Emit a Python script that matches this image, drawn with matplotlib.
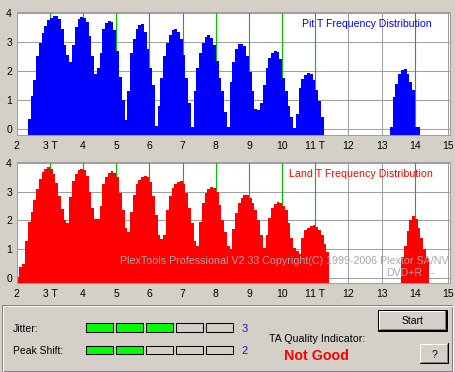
import matplotlib
matplotlib.use('Agg')
import matplotlib.pyplot as plt
import numpy as np
from matplotlib.patches import Rectangle

plt.rcParams['font.family'] = ['Liberation Sans', 'DejaVu Sans']

# ---------------- data ----------------
BIN = 1 / 12
x_ticks = [2, 3, 4, 5, 6, 7, 8, 9, 10, 11, 12, 13, 14, 15]
x_tick_labels = ['2', '3 T', '4', '5', '6', '7', '8', '9', '10', '11 T', '12', '13', '14', '15']
y_ticks = [0, 1, 2, 3, 4]
y_tick_labels = ['0', '1', '2', '3', '4']
green_marks = [3, 4, 5, 6, 7, 8, 9, 10, 11, 14]

pit_main_start = 2 + 4 / 12
pit_main = [0.33, 1.15, 1.7, 2.5, 2.95, 3.3, 3.55, 3.75, 3.83, 3.88, 3.9, 3.78, 3.45, 2.9, 2.55, 2.3,
            2.9, 3.5, 3.78, 3.85, 3.82, 3.7, 3.2, 2.5, 1.9, 2.1,
            2.6, 3.45, 3.65, 3.72, 3.7, 3.4, 2.7, 1.8, 1.0, 0.3,
            1.3, 2.6, 3.1, 3.45, 3.58, 3.62, 3.35, 2.75, 2.1, 1.5,
            0.1, 0.8, 1.75, 2.5, 2.95, 3.25, 3.4, 3.45, 3.35, 3.1,
            2.55, 1.75, 0.9, 0.05, 1.3, 2.1, 2.6, 2.95, 3.18, 3.24,
            3.12, 2.9, 2.35, 1.75, 1.3, 0.6, 0.08, 1.6, 2.3, 2.75,
            2.92, 2.92, 2.85, 2.5, 1.95, 1.3, 0.7, 0.66, 0.9, 1.5,
            2.1, 2.45, 2.6, 2.67, 2.66, 2.4, 1.75, 1.3, 0.8, 0.4,
            0.03, 0.5, 1.4, 1.72, 1.86, 1.94, 1.88, 1.7, 1.35, 0.95, 0.4]
pit_14_start = 2 + 135 / 12
pit_14 = [0.05, 1.1, 1.55, 1.9, 2.03, 2.05, 1.9, 1.6, 1.35, 0.05, 0.05]

land_main_start = 2.0
land_main = [0.05, 0.4, 0.5, 1.3, 1.95, 2.3, 2.7, 3.1, 3.45, 3.68,
             3.78, 3.85, 3.8, 3.62, 3.3, 2.85, 2.4, 2.0, 1.9, 2.8,
             3.37, 3.62, 3.76, 3.8, 3.76, 3.55, 3.0, 2.45, 2.05, 2.05,
             2.5, 3.25, 3.5, 3.65, 3.72, 3.66, 3.5, 2.95, 2.35, 1.75,
             1.6, 2.3, 2.9, 3.25, 3.42, 3.5, 3.55, 3.5, 3.35, 2.85,
             2.2, 1.5, 1.35, 1.5, 2.35, 2.85, 3.12, 3.25, 3.33, 3.36,
             3.25, 2.95, 2.45, 1.9, 1.3, 1.1, 1.95, 2.6, 2.95, 3.08,
             3.15, 3.14, 3.0, 2.55, 2.0, 1.6, 1.1, 1.0, 1.7, 2.25,
             2.6, 2.78, 2.88, 2.87, 2.78, 2.6, 2.35, 2.0, 1.5, 1.05,
             1.5, 2.1, 2.45, 2.57, 2.63, 2.6, 2.52, 2.35, 1.9, 1.4,
             1.05, 0.95, 0.85, 1.4, 1.68, 1.75, 1.82, 1.84, 1.78, 1.68, 1.5, 1.2, 0.9]
land_14_start = 2 + 139 / 12
land_14 = [0.75, 1.1, 1.65, 2.0, 2.15, 2.05, 1.75, 1.4, 1.0, 0.7]

jitter_level = 3
peak_shift_level = 2
n_levels = 5
quality_text = 'Not Good'

# ---------------- figure ----------------
W, H = 456, 372
BG = '#D4D0C8'
fig = plt.figure(figsize=(W / 100, H / 100), dpi=100, facecolor=BG)


def px_axes(x0, y0, x1, y1):
    return fig.add_axes([x0 / W, 1 - y1 / H, (x1 - x0) / W, (y1 - y0) / H])


def setup(ax, ylim):
    ax.set_facecolor('white')
    ax.set_xlim(2, 15.06)
    ax.set_ylim(*ylim)
    ax.set_xticks(x_ticks)
    ax.set_xticklabels(x_tick_labels)
    ax.set_yticks(y_ticks)
    ax.set_yticklabels(y_tick_labels)
    ax.tick_params(length=0, labelsize=7.5, pad=4.2)
    ax.tick_params(axis='y', pad=3.4)
    ax.grid(True, color='#A0A0A0', lw=0.75)
    ax.set_axisbelow(True)
    for s in ax.spines.values():
        s.set_color('#A0A0A0')
        s.set_linewidth(0.75)
    for g in green_marks:
        ax.axvline(g, color='#00C000', lw=0.8, zorder=1)


def draw_hist(ax, start, vals, color, base):
    edges = start + np.arange(len(vals) + 1) * BIN
    ax.stairs(vals, edges, baseline=base, fill=True, color=color, lw=0, zorder=2)


ax1 = px_axes(16.7, 12.3, 450, 135)
yl1 = (-0.21, 4.02)
setup(ax1, yl1)
draw_hist(ax1, pit_main_start, pit_main, '#0000FF', yl1[0])
draw_hist(ax1, pit_14_start, pit_14, '#0000FF', yl1[0])

ax2 = px_axes(16.7, 162.3, 450, 283.3)
yl2 = (-0.18, 4.02)
setup(ax2, yl2)
draw_hist(ax2, land_main_start, land_main, '#FF0000', yl2[0])
draw_hist(ax2, land_14_start, land_14, '#FF0000', yl2[0])

# overlay in pixel coordinates
ov = fig.add_axes([0, 0, 1, 1], facecolor='none')
ov.set_xlim(0, W)
ov.set_ylim(H, 0)
ov.axis('off')
renderer = fig.canvas.get_renderer()


def fit_text(x0, x1, y, s, size, **kw):
    t = ov.text(x0, y, s, fontsize=size, ha='left', va='baseline', **kw)
    w = t.get_window_extent(renderer).width
    t.set_fontsize(size * (x1 - x0) / w)
    return t


fit_text(301.7, 431, 27.3, 'Pit T Frequency Distribution', 7.5, color='#0000FF')
fit_text(289.3, 431, 176.7, 'Land T Frequency Distribution', 7.5, color='#FF0000')
fit_text(120, 443, 264, 'PlexTools Professional V2.33 Copyright(C) 1999-2006 Plextor SA/NV', 7.5,
         color='#A8A8A8')
fit_text(386, 421.7, 276, 'DVD+R', 7.5, color='#A8A8A8')
ov.text(432.7, 276, '-', fontsize=7.5, ha='center', va='baseline', color='#A8A8A8')

# bottom panel frame (etched)
ov.add_patch(Rectangle((2.5, 304.5), 450, 66, fill=False, ec='#808080', lw=0.72))
ov.add_patch(Rectangle((3.5, 305.5), 450, 66, fill=False, ec='white', lw=0.72))

ov.text(12.7, 331.7, 'Jitter:', fontsize=7.5, ha='left', va='baseline')
ov.text(13.3, 353.7, 'Peak Shift:', fontsize=7.5, ha='left', va='baseline')


def level_boxes(y0, level):
    for i in range(n_levels):
        x0 = 86 + 30 * i
        ov.add_patch(Rectangle((x0, y0), 27.3, 8.4,
                               fc='#00FF00' if i < level else BG, ec='black', lw=0.75))


level_boxes(323.3, jitter_level)
level_boxes(345.8, peak_shift_level)
ov.text(244.8, 331.7, str(jitter_level), fontsize=8, ha='center', va='baseline', color='#1818D0')
ov.text(244.5, 353.7, str(peak_shift_level), fontsize=8, ha='center', va='baseline', color='#1818D0')

fit_text(268.7, 362.7, 341.7, 'TA Quality Indicator:', 7.5)
fit_text(284.3, 349, 360, quality_text, 10, color='#FF0000', fontweight='bold')


def button(x0, y0, x1, y1, label, base, default=False):
    ov.add_patch(Rectangle((x0, y0), x1 - x0, y1 - y0, fc=BG, ec='none'))
    if default:
        ov.add_patch(Rectangle((x0 + 0.5, y0 + 0.5), x1 - x0 - 1, y1 - y0 - 1, fill=False, ec='black', lw=0.72))
        x0 += 1; y0 += 1; x1 -= 1; y1 -= 1
    ov.plot([x0 + 0.5, x0 + 0.5, x1 - 1], [y1 - 1, y0 + 0.5, y0 + 0.5], color='white', lw=0.72)
    ov.plot([x0, x1 - 0.5, x1 - 0.5], [y1 - 0.5, y1 - 0.5, y0], color='black', lw=0.72)
    ov.plot([x0 + 1, x1 - 1.5, x1 - 1.5], [y1 - 1.5, y1 - 1.5, y0 + 1], color='#808080', lw=0.72)
    ov.text((x0 + x1) / 2, base, label, fontsize=7.5, ha='center', va='baseline')


button(378, 309, 448, 331, 'Start', 324.3, default=True)
button(420, 343, 448.5, 363.5, '?', 358.3)

fig.savefig('out.png', dpi=100, facecolor=BG)
